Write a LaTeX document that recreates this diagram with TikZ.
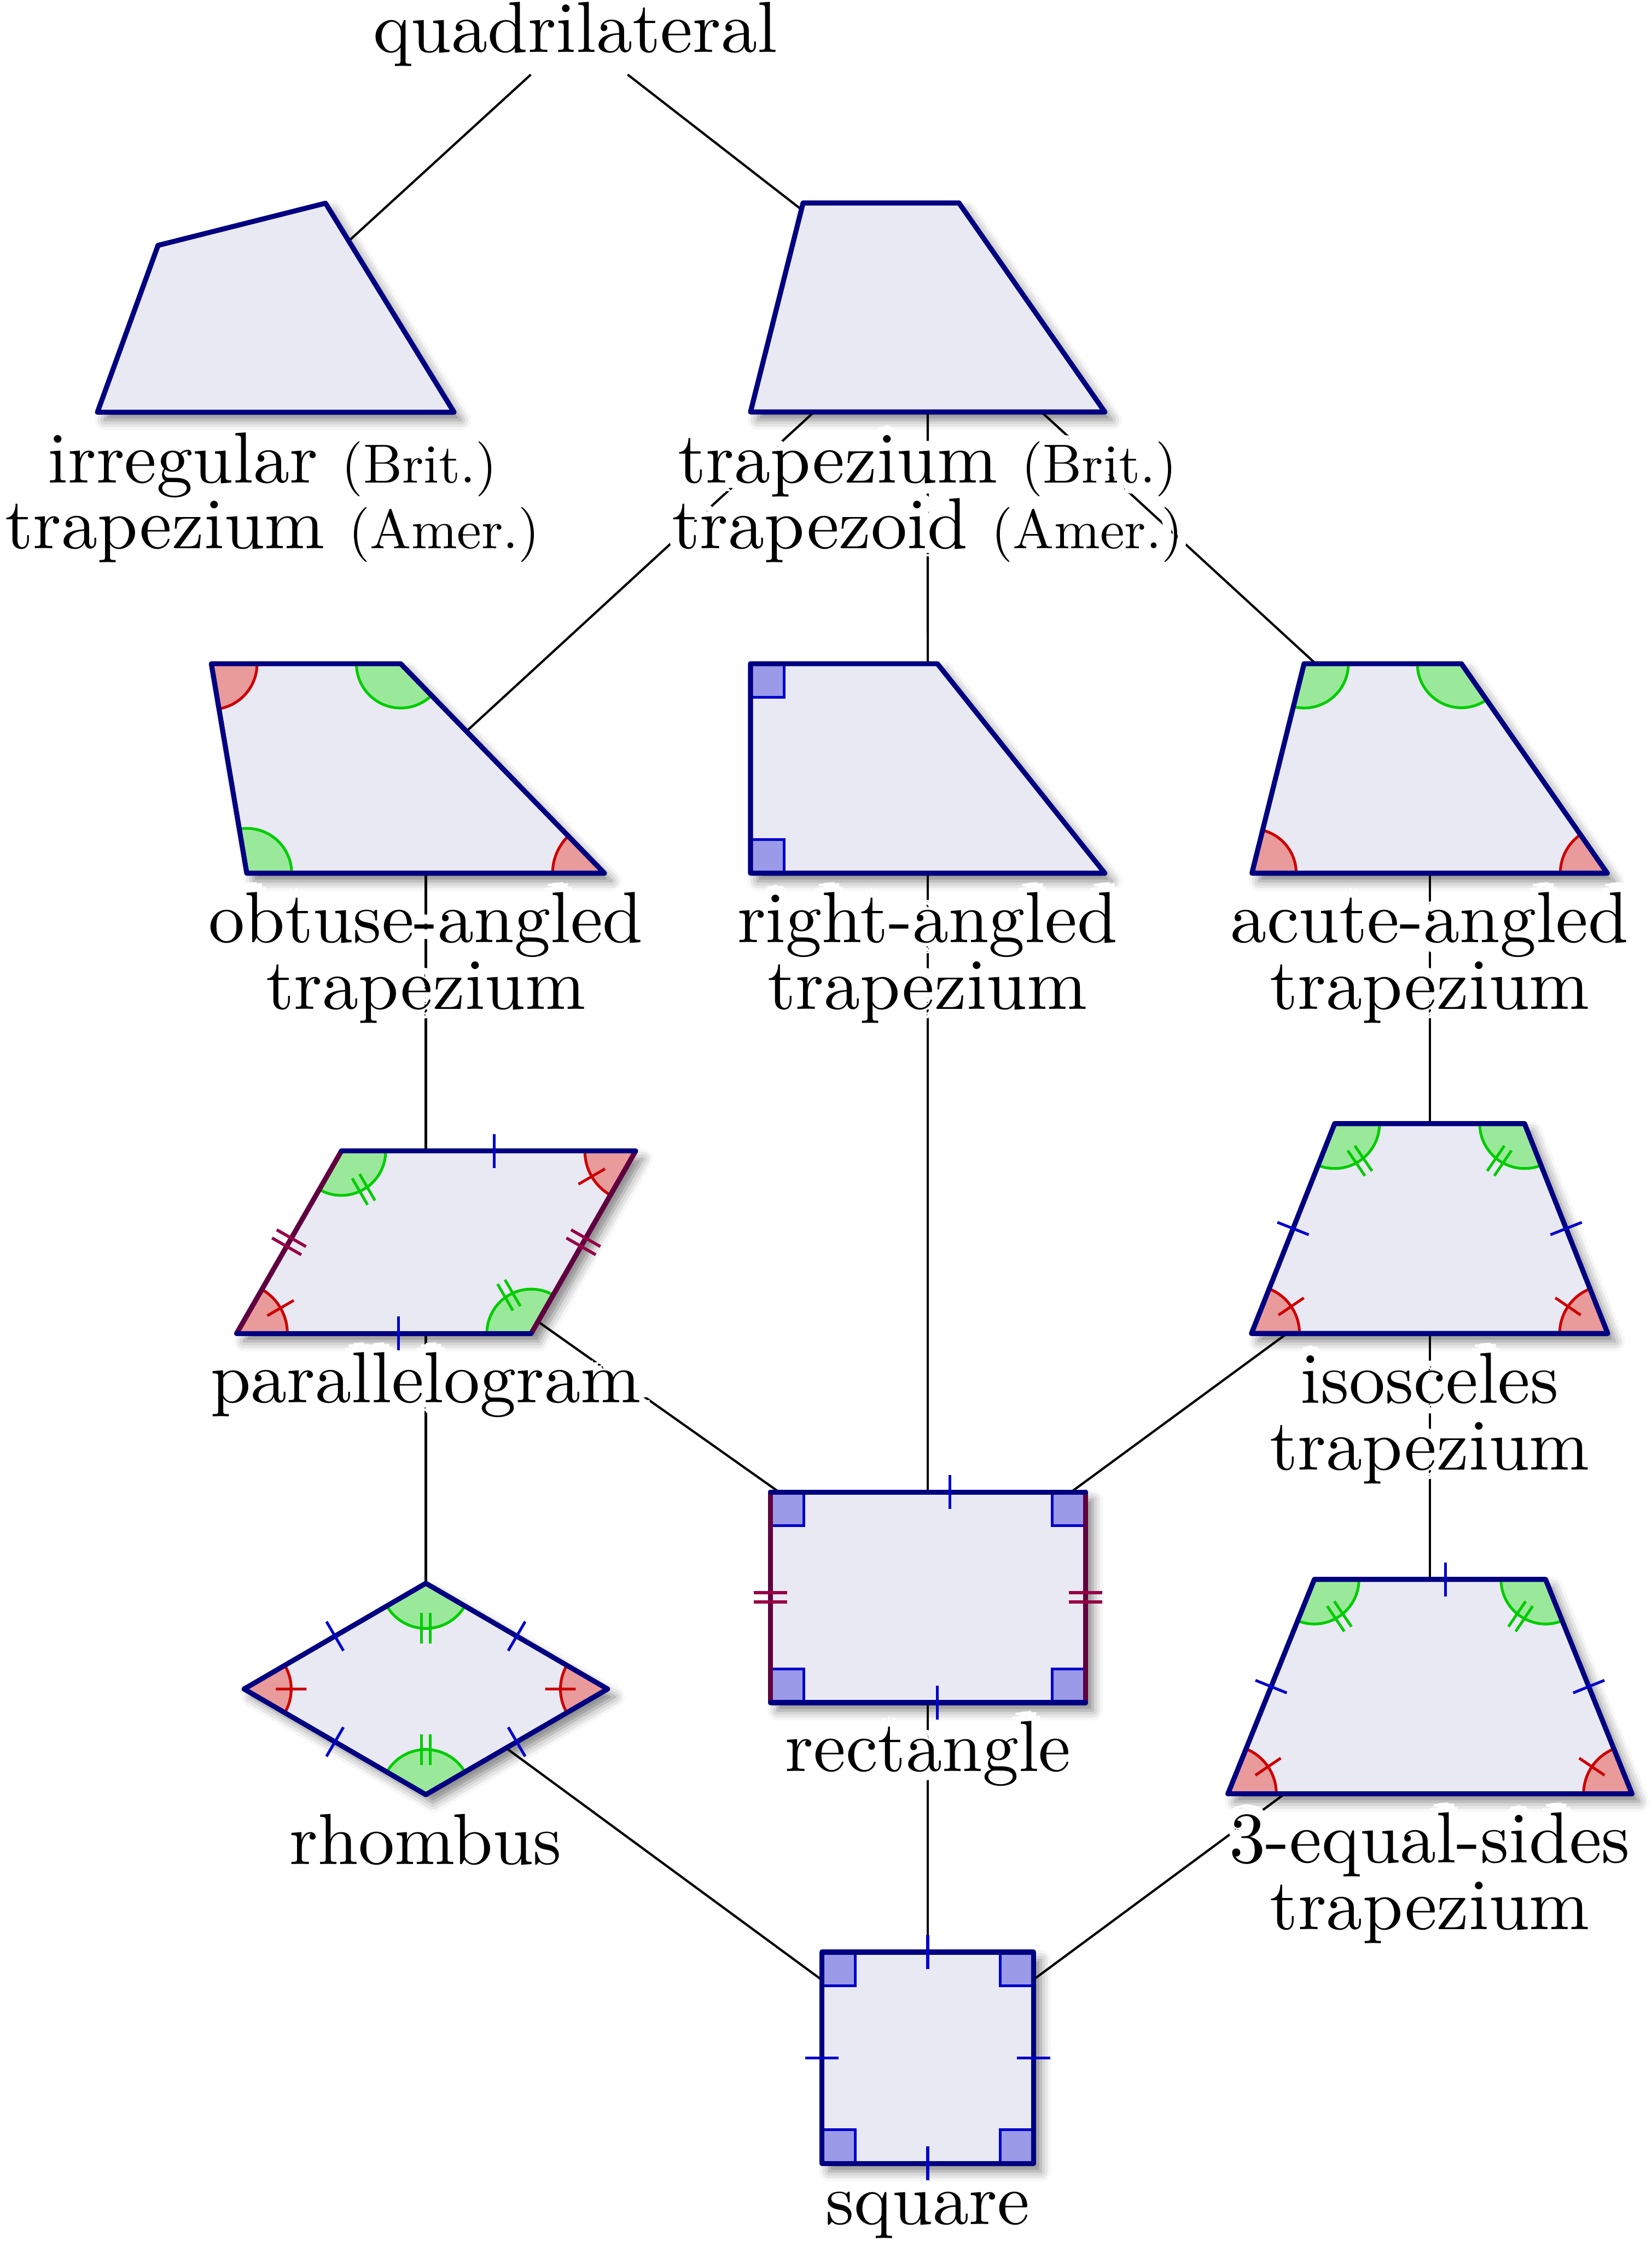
\documentclass[tikz,border=0pt]{standalone}
\usepackage{fontspec}
\setmainfont{lmroman10-regular.otf}
\usetikzlibrary{calc, angles, shadows.blur}

\definecolor{figbg}{RGB}{233,233,243}
\definecolor{figedge}{RGB}{0,0,128}
\definecolor{pairedge}{RGB}{96,0,64}
\definecolor{redline}{RGB}{204,0,0}
\definecolor{redfill}{RGB}{233,154,154}
\definecolor{greenline}{RGB}{0,204,0}
\definecolor{greenfill}{RGB}{154,233,154}
\definecolor{rtline}{RGB}{0,0,204}
\definecolor{rtfill}{RGB}{154,154,233}
\definecolor{tickblue}{RGB}{0,0,204}
\definecolor{tickpair}{RGB}{150,0,70}

\newcommand\lblfont{\fontsize{14.4}{13.2}\selectfont}
\newcommand\smallfont{\fontsize{10.95}{12}\selectfont}

% first pass of the labels: only a white rim round the glyphs
\newif\ifhalo
\newcommand\rimmed[1]{\ifhalo\setbox0=\hbox{#1}%
  \foreach \ha in {0,30,...,330}{\pgfmathsetmacro\hx{2*cos(\ha)}\pgfmathsetmacro\hy{2*sin(\ha)}%
    \rlap{\kern\hx pt\raise\hy pt\hbox{\color{white}\copy0}}}%
  \phantom{#1}\else#1\fi}

% filled angle sector: style, next, vertex, previous, radius
\newcommand\angmark[5]{\pic[#1, angle radius=#5] {angle=#2--#3--#4};}
% strokes across an angle arc: style, next, vertex, previous, radius, 1 or 2
\newcommand\angtick[6]{%
  \path ($(#3)!1cm!(#2)$) coordinate (t1) ($(#3)!1cm!(#4)$) coordinate (t2);
  \path ($(t1)!0.5!(t2)$) coordinate (tm);
  \path ($(#3)!#5!(tm)$) coordinate (ti);
  \path ($(ti)!1.07mm!(#3)$) coordinate (ta) ($(ti)!-1.07mm!(#3)$) coordinate (tb);
  \ifnum#6=1
    \draw[#1] (ta) -- (tb);
  \else
    \draw[#1] ($(ta)!0.3mm!90:(tb)$) -- ($(tb)!0.3mm!-90:(ta)$)
              ($(ta)!0.3mm!-90:(tb)$) -- ($(tb)!0.3mm!90:(ta)$);
  \fi}
% strokes across a side: style, from, to, position, 1 or 2
\newcommand\sidetick[5]{%
  \path ($(#2)!#4!(#3)$) coordinate (si);
  \ifnum#5=1
    \draw[#1] ($(si)!1.18mm!90:(#3)$) -- ($(si)!1.18mm!-90:(#3)$);
  \else
    \path ($(si)!0.33mm!(#3)$) coordinate (sa) ($(si)!-0.33mm!(#3)$) coordinate (sb);
    \draw[#1] ($(sa)!1.18mm!90:(#3)$) -- ($(sa)!1.18mm!-90:(#3)$)
              ($(sb)!1.18mm!90:(#3)$) -- ($(sb)!1.18mm!-90:(#3)$);
  \fi}
% right-angle square: corner, x sign, y sign
\newcommand\rtmark[3]{%
  \fill[rtfill, shift={(#1)}] (0,0) rectangle (#2*23.5,#3*23.5);
  \draw[rtline, line width=0.55pt, shift={(#1)}] (#2*23.5,0) -- (#2*23.5,#3*23.5) -- (0,#3*23.5);}

\begin{document}
\begin{tikzpicture}[x=0.1mm, y=0.1mm,
  link/.style={line width=0.45pt},
  figfill/.style={fill=figbg, blur shadow={shadow xshift=0.5mm, shadow yshift=-0.55mm,
                  shadow blur radius=0.7mm, shadow opacity=50}},
  figline/.style={draw=figedge, line width=1pt, line join=round, line cap=round},
  pairline/.style={draw=pairedge, line width=1pt, line cap=round},
  redang/.style={draw=redline, fill=redfill, line width=0.55pt},
  greenang/.style={draw=greenline, fill=greenfill, line width=0.55pt},
  redtick/.style={draw=redline, line width=0.55pt},
  greentick/.style={draw=greenline, line width=0.55pt},
  bluetick/.style={draw=tickblue, line width=0.55pt},
  pairtick/.style={draw=tickpair, line width=0.6pt},
  lbl/.style={font=\lblfont, anchor=base, inner sep=0pt}
]
\useasboundingbox (0,0) rectangle (1156,1568);

\node[lbl, inner sep=1.5pt] (quad) at (402.6,1531.6) {quadrilateral};

% hubs of the tree
\coordinate (hIrr) at (193,1352.7);
\coordinate (hTrap) at (649.2,1352.8);
\coordinate (hObt) at (298,1030.2);
\coordinate (hRight) at (649.3,1030.5);
\coordinate (hAcute) at (1000.5,1030.4);
\coordinate (hPar) at (298,698.8);
\coordinate (hIso) at (1000.5,708.3);
\coordinate (hRect) at (649.3,450.4);
\coordinate (hRhom) at (298,386.2);
\coordinate (hThree) at (1000.5,387.9);
\coordinate (hSq) at (649.3,128.2);

\draw[link] (quad) -- (hIrr);
\draw[link] (quad) -- (hTrap);
\draw[link] (hTrap) -- (hObt);
\draw[link] (hTrap) -- (hRight);
\draw[link] (hTrap) -- (hAcute);
\draw[link] (hObt) -- (hPar);
\draw[link] (hRight) -- (hRect);
\draw[link] (hAcute) -- (hIso);
\draw[link] (hPar) -- (hRect);
\draw[link] (hIso) -- (hRect);
\draw[link] (hPar) -- (hRhom);
\draw[link] (hIso) -- (hThree);
\draw[link] (hRhom) -- (hSq);
\draw[link] (hRect) -- (hSq);
\draw[link] (hThree) -- (hSq);

% irregular quadrilateral
\path (68.2,1279.6) coordinate (ir1) (317.7,1279.6) coordinate (ir2)
      (227.8,1425.8) coordinate (ir3) (110.6,1396.3) coordinate (ir4);
\path[figfill, figline] (ir1) -- (ir2) -- (ir3) -- (ir4) -- cycle;

% trapezium
\path (525.2,1279.7) coordinate (tz1) (773.2,1279.7) coordinate (tz2)
      (671.1,1426) coordinate (tz3) (562,1426) coordinate (tz4);
\path[figfill, figline] (tz1) -- (tz2) -- (tz3) -- (tz4) -- cycle;

% obtuse-angled trapezium
\path (172.7,957) coordinate (ob1) (423,957) coordinate (ob2)
      (280.4,1103.6) coordinate (ob3) (147.9,1103.6) coordinate (ob4);
\fill[figfill] (ob1) -- (ob2) -- (ob3) -- (ob4) -- cycle;
\angmark{greenang}{ob2}{ob1}{ob4}{3.14mm}
\angmark{redang}{ob3}{ob2}{ob1}{3.63mm}
\angmark{greenang}{ob4}{ob3}{ob2}{3.1mm}
\angmark{redang}{ob1}{ob4}{ob3}{3.2mm}
\draw[figline] (ob1) -- (ob2) -- (ob3) -- (ob4) -- cycle;

% right-angled trapezium
\path (525.2,957) coordinate (ra1) (773.2,957) coordinate (ra2)
      (656,1103.6) coordinate (ra3) (525.2,1103.6) coordinate (ra4);
\fill[figfill] (ra1) -- (ra2) -- (ra3) -- (ra4) -- cycle;
\rtmark{ra1}{1}{1}
\rtmark{ra4}{1}{-1}
\draw[figline] (ra1) -- (ra2) -- (ra3) -- (ra4) -- cycle;

% acute-angled trapezium
\path (876.1,957) coordinate (ac1) (1124.8,957) coordinate (ac2)
      (1022.7,1103.6) coordinate (ac3) (912.6,1103.6) coordinate (ac4);
\fill[figfill] (ac1) -- (ac2) -- (ac3) -- (ac4) -- cycle;
\angmark{redang}{ac2}{ac1}{ac4}{3.1mm}
\angmark{redang}{ac3}{ac2}{ac1}{3.29mm}
\angmark{greenang}{ac4}{ac3}{ac2}{3.08mm}
\angmark{greenang}{ac1}{ac4}{ac3}{3.1mm}
\draw[figline] (ac1) -- (ac2) -- (ac3) -- (ac4) -- cycle;

% parallelogram
\path (165.6,635) coordinate (pa1) (371.7,635) coordinate (pa2)
      (444.8,762.6) coordinate (pa3) (238.9,762.6) coordinate (pa4);
\fill[figfill] (pa1) -- (pa2) -- (pa3) -- (pa4) -- cycle;
\angmark{redang}{pa2}{pa1}{pa4}{3.55mm}
\angmark{greenang}{pa3}{pa2}{pa1}{3.1mm}
\angmark{redang}{pa4}{pa3}{pa2}{3.55mm}
\angmark{greenang}{pa1}{pa4}{pa3}{3.1mm}
\draw[pairline] (pa1) -- (pa4) (pa2) -- (pa3);
\draw[figline] (pa1) -- (pa2) (pa4) -- (pa3);
\angtick{redtick}{pa2}{pa1}{pa4}{3.55mm}{1}
\angtick{greentick}{pa3}{pa2}{pa1}{3.1mm}{2}
\angtick{redtick}{pa4}{pa3}{pa2}{3.55mm}{1}
\angtick{greentick}{pa1}{pa4}{pa3}{3.1mm}{2}
\sidetick{bluetick}{pa4}{pa3}{0.52}{1}
\sidetick{bluetick}{pa1}{pa2}{0.55}{1}
\sidetick{pairtick}{pa1}{pa4}{0.5}{2}
\sidetick{pairtick}{pa2}{pa3}{0.5}{2}

% isosceles trapezium
\path (875.8,635) coordinate (is1) (1125.1,635) coordinate (is2)
      (1066.9,781.8) coordinate (is3) (934,781.8) coordinate (is4);
\fill[figfill] (is1) -- (is2) -- (is3) -- (is4) -- cycle;
\angmark{redang}{is2}{is1}{is4}{3.36mm}
\angmark{redang}{is3}{is2}{is1}{3.36mm}
\angmark{greenang}{is4}{is3}{is2}{3.14mm}
\angmark{greenang}{is1}{is4}{is3}{3.14mm}
\draw[figline] (is1) -- (is2) -- (is3) -- (is4) -- cycle;
\angtick{redtick}{is2}{is1}{is4}{3.36mm}{1}
\angtick{redtick}{is3}{is2}{is1}{3.36mm}{1}
\angtick{greentick}{is4}{is3}{is2}{3.14mm}{2}
\angtick{greentick}{is1}{is4}{is3}{3.14mm}{2}
\sidetick{bluetick}{is1}{is4}{0.5}{1}
\sidetick{bluetick}{is2}{is3}{0.5}{1}

% rectangle
\path (539.2,376.7) coordinate (re1) (759.7,376.7) coordinate (re2)
      (759.7,524) coordinate (re3) (539.2,524) coordinate (re4);
\fill[figfill] (re1) rectangle (re3);
\rtmark{re1}{1}{1}
\rtmark{re2}{-1}{1}
\rtmark{re3}{-1}{-1}
\rtmark{re4}{1}{-1}
\draw[pairline] (re1) -- (re4) (re2) -- (re3);
\draw[figline] (re1) -- (re2) (re4) -- (re3);
\sidetick{bluetick}{re4}{re3}{0.569}{1}
\sidetick{bluetick}{re1}{re2}{0.529}{1}
\sidetick{pairtick}{re1}{re4}{0.5}{2}
\sidetick{pairtick}{re2}{re3}{0.5}{2}

% rhombus
\path (170.8,386.2) coordinate (rh1) (298,312.3) coordinate (rh2)
      (425.2,386.2) coordinate (rh3) (298,460.2) coordinate (rh4);
\fill[figfill] (rh1) -- (rh2) -- (rh3) -- (rh4) -- cycle;
\angmark{redang}{rh2}{rh1}{rh4}{3.3mm}
\angmark{greenang}{rh3}{rh2}{rh1}{3.16mm}
\angmark{redang}{rh4}{rh3}{rh2}{3.3mm}
\angmark{greenang}{rh1}{rh4}{rh3}{3.16mm}
\draw[figline] (rh1) -- (rh2) -- (rh3) -- (rh4) -- cycle;
\angtick{redtick}{rh2}{rh1}{rh4}{3.3mm}{1}
\angtick{greentick}{rh3}{rh2}{rh1}{3.16mm}{2}
\angtick{redtick}{rh4}{rh3}{rh2}{3.3mm}{1}
\angtick{greentick}{rh1}{rh4}{rh3}{3.16mm}{2}
\sidetick{bluetick}{rh1}{rh2}{0.5}{1}
\sidetick{bluetick}{rh2}{rh3}{0.5}{1}
\sidetick{bluetick}{rh3}{rh4}{0.5}{1}
\sidetick{bluetick}{rh4}{rh1}{0.5}{1}

% trapezium with three equal sides
\path (859.3,312.9) coordinate (te1) (1142.1,312.9) coordinate (te2)
      (1081.6,462.9) coordinate (te3) (919.8,462.9) coordinate (te4);
\fill[figfill] (te1) -- (te2) -- (te3) -- (te4) -- cycle;
\angmark{redang}{te2}{te1}{te4}{3.39mm}
\angmark{redang}{te3}{te2}{te1}{3.39mm}
\angmark{greenang}{te4}{te3}{te2}{3.12mm}
\angmark{greenang}{te1}{te4}{te3}{3.12mm}
\draw[figline] (te1) -- (te2) -- (te3) -- (te4) -- cycle;
\angtick{redtick}{te2}{te1}{te4}{3.39mm}{1}
\angtick{redtick}{te3}{te2}{te1}{3.39mm}{1}
\angtick{greentick}{te4}{te3}{te2}{3.12mm}{2}
\angtick{greentick}{te1}{te4}{te3}{3.12mm}{2}
\sidetick{bluetick}{te1}{te4}{0.5}{1}
\sidetick{bluetick}{te2}{te3}{0.5}{1}
\sidetick{bluetick}{te4}{te3}{0.568}{1}

% square
\path (575.2,54.3) coordinate (sq1) (723.3,54.3) coordinate (sq2)
      (723.3,202.1) coordinate (sq3) (575.2,202.1) coordinate (sq4);
\fill[figfill] (sq1) rectangle (sq3);
\rtmark{sq1}{1}{1}
\rtmark{sq2}{-1}{1}
\rtmark{sq3}{-1}{-1}
\rtmark{sq4}{1}{-1}
\draw[figline] (sq1) -- (sq2) -- (sq3) -- (sq4) -- cycle;
\sidetick{bluetick}{sq1}{sq2}{0.5}{1}
\sidetick{bluetick}{sq2}{sq3}{0.5}{1}
\sidetick{bluetick}{sq4}{sq3}{0.5}{1}
\sidetick{bluetick}{sq1}{sq4}{0.5}{1}

% labels with no link through them
\node[lbl] (irrA) at (190.7,1230) {irregular {\smallfont(Brit.)}};
\node[lbl] (irrB) at (190.7,1184.4) {trapezium {\smallfont(Amer.)}};
\node[lbl] (rhomA) at (298,263.5) {rhombus};
\node[lbl] (sqA) at (649.2,11.5) {square};

% labels that links cross: white rims first, then the text
\foreach \pass in {1,0}{
  \ifnum\pass=1 \halotrue\else\halofalse\fi
  \node[lbl] (trapA) at (649,1230) {\rimmed{trapezium {\smallfont(Brit.)}}};
  \node[lbl] (trapB) at (649,1184.4) {\rimmed{trapezoid {\smallfont(Amer.)}}};
  \node[lbl] (obtA) at (298,908.5) {\rimmed{obtuse-angled}};
  \node[lbl] (obtB) at (298,862) {\rimmed{trapezium}};
  \node[lbl] (rightA) at (649,908.5) {\rimmed{right-angled}};
  \node[lbl] (rightB) at (649,862) {\rimmed{trapezium}};
  \node[lbl] (acuteA) at (1000.5,908.5) {\rimmed{acute-angled}};
  \node[lbl] (acuteB) at (1000.5,862) {\rimmed{trapezium}};
  \node[lbl] (parA) at (298,586.5) {\rimmed{parallelogram}};
  \node[lbl] (isoA) at (1000.5,586.3) {\rimmed{isosceles}};
  \node[lbl] (isoB) at (1000.5,539.7) {\rimmed{trapezium}};
  \node[lbl] (rectA) at (649.5,328.5) {\rimmed{rectangle}};
  \node[lbl] (threeA) at (1000.6,264.7) {\rimmed{3-equal-sides}};
  \node[lbl] (threeB) at (1000.6,217.9) {\rimmed{trapezium}};
}
\end{tikzpicture}
\end{document}
